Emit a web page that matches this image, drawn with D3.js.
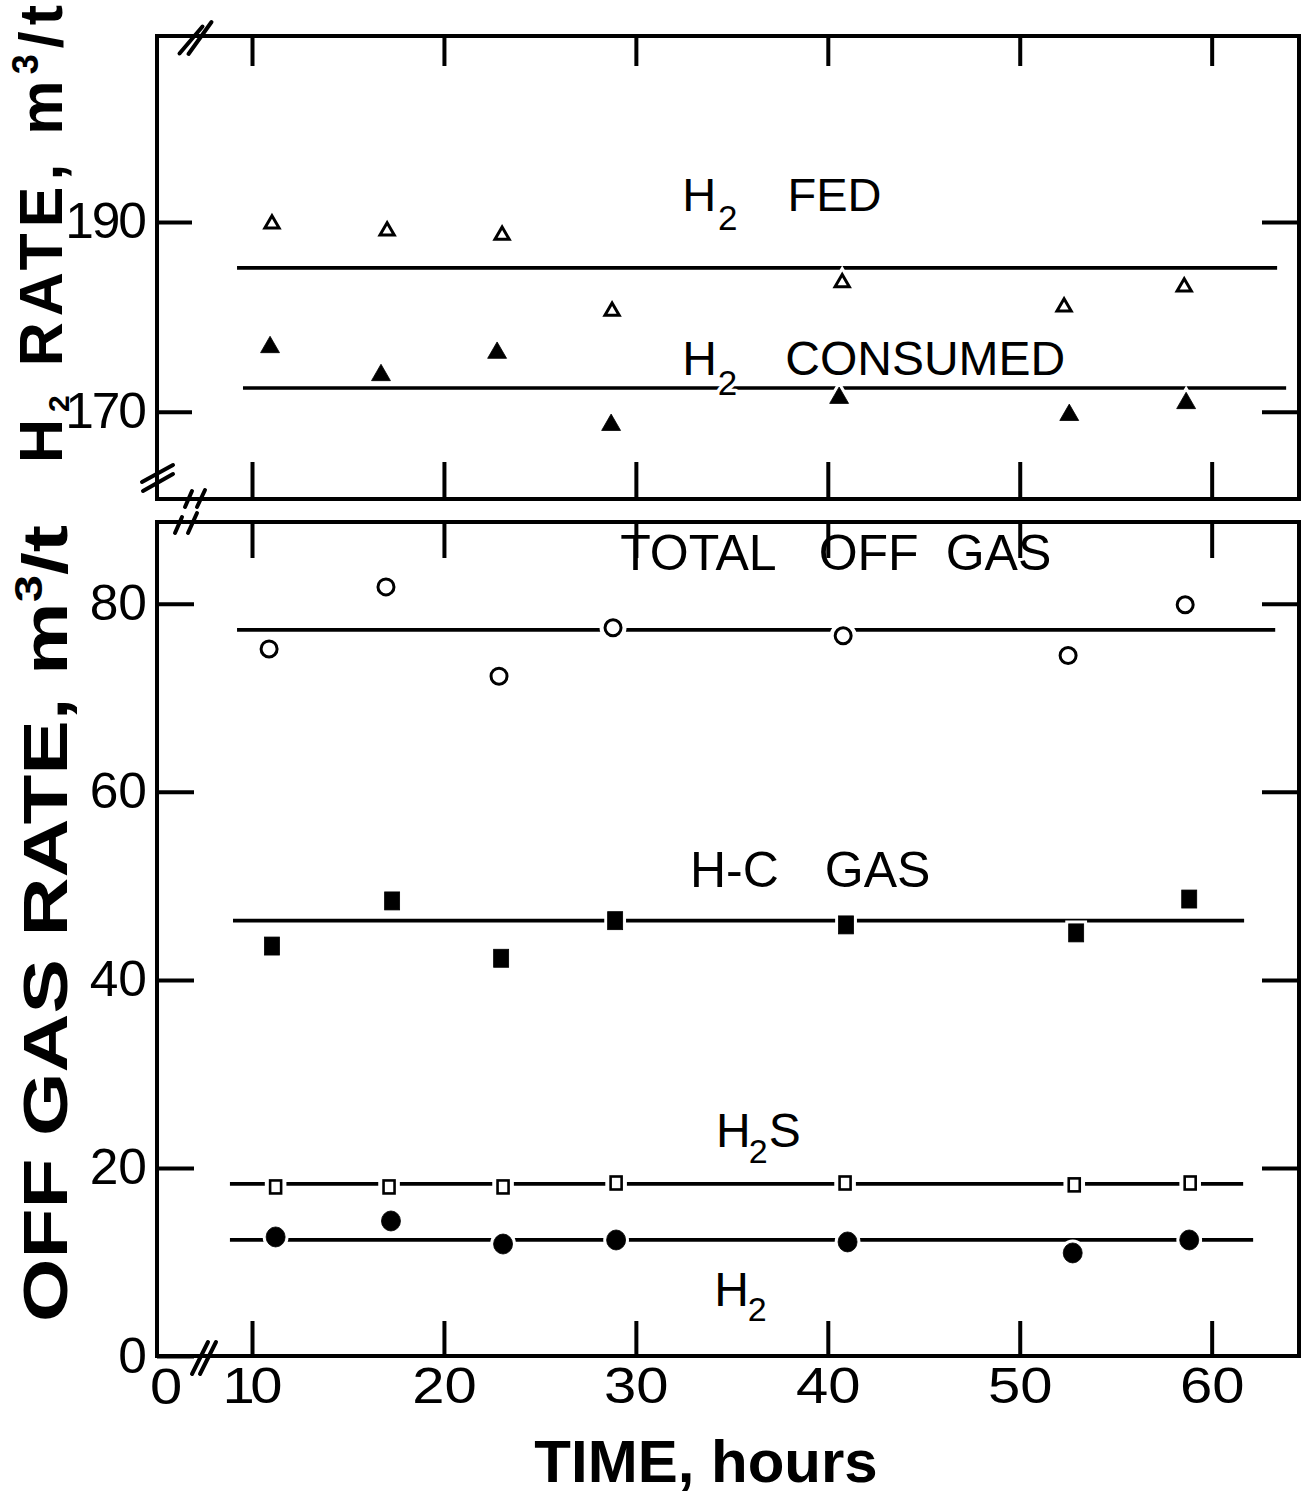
<!DOCTYPE html>
<html>
<head>
<meta charset="utf-8">
<script src="https://cdn.jsdelivr.net/npm/d3@7"></script>
<style>
  html, body { margin: 0; padding: 0; background: #fff; }
  svg { display: block; }
</style>
</head>
<body>
<svg id="chart" width="1309" height="1495"></svg>
<script>
// ---- axis ticks ----
const timeTicks = [10, 20, 30, 40, 50, 60];
const timeOriginLabel = "0";
const h2RateTicks = [170, 190];
const offGasTicks = [0, 20, 40, 60, 80];

// ---- upper panel: hydrogen rates (m3/t) ----
const h2FedTime = [11.04, 17.04, 23.03, 28.76, 40.75, 52.31, 58.57];
const h2FedRate = [189.8, 189.05, 188.6, 180.6, 183.6, 181.05, 183.15];
const h2ConsumedTime = [10.94, 16.72, 22.77, 28.71, 40.59, 52.58, 58.67];
const h2ConsumedRate = [176.8, 173.85, 176.2, 168.6, 171.45, 169.65, 170.9];

// ---- lower panel: off gas rates (m3/t) ----
const totalOffGasTime = [10.89, 16.98, 22.87, 28.81, 40.8, 52.52, 58.62];
const totalOffGasRate = [75.2, 81.8, 72.3, 77.45, 76.6, 74.5, 79.9];
const hcGasTime = [11.04, 17.3, 22.98, 28.92, 40.95, 52.94, 58.83];
const hcGasRate = [43.6, 48.4, 42.3, 46.3, 45.85, 45.0, 48.6];
const h2sTime = [11.23, 17.14, 23.08, 28.97, 40.9, 52.84, 58.88];
const h2sRate = [17.98, 17.98, 17.98, 18.4, 18.4, 18.2, 18.4];
const h2OffTime = [11.23, 17.24, 23.08, 28.97, 41.03, 52.76, 58.83];
const h2OffRate = [12.66, 14.36, 11.91, 12.34, 12.13, 10.96, 12.34];

// ---- average lines: level and time span ----
const h2FedMean = 185.15, h2FedSpan = [9.22, 63.41];
const h2ConsumedMean = 172.5, h2ConsumedSpan = [9.53, 63.88];
const totalOffGasMean = 77.23, totalOffGasSpan = [9.22, 63.31];
const hcGasMean = 46.3, hcGasSpan = [9.01, 61.69];
const h2sMean = 18.3, h2sSpan = [8.85, 61.64];
const h2OffMean = 12.34, h2OffSpan = [8.85, 62.16];

// ---- layout ----
const svg = d3.select("#chart");
const FRAME_L = 157, FRAME_R = 1299;
const upper = { top: 36, bottom: 499 };
const lower = { top: 522, bottom: 1356 };
const SANS = "'Liberation Sans', Arial, Helvetica, sans-serif";
const LABEL_SIZE = 50;
const X_LABEL_STRETCH = 1.16;
const Y_LABEL_STRETCH = 1.03;

svg.append("rect").attr("width", 1309).attr("height", 1495).attr("fill", "#fff");

const x = d3.scaleLinear().domain([5.05, 64.55]).range([FRAME_L, FRAME_R]);
const yUpper = d3.scaleLinear().domain([160.8, 209.6]).range([upper.bottom, upper.top]);
const yLower = d3.scaleLinear().domain([0, 88.7]).range([lower.bottom, lower.top]);

// ---- average lines ----
function meanLine(level, span, yS) {
  svg.append("path")
    .datum(span.map(t => [t, level]))
    .attr("d", d3.line().x(d => x(d[0])).y(d => yS(d[1])))
    .attr("fill", "none")
    .attr("stroke", "#000")
    .attr("stroke-width", 3.7);
}
meanLine(h2FedMean, h2FedSpan, yUpper);
meanLine(h2ConsumedMean, h2ConsumedSpan, yUpper);
meanLine(totalOffGasMean, totalOffGasSpan, yLower);
meanLine(hcGasMean, hcGasSpan, yLower);
meanLine(h2sMean, h2sSpan, yLower);
meanLine(h2OffMean, h2OffSpan, yLower);

// ---- curve labels (white halo breaks the lines they cross) ----
function annotate(t, v, yS, size, parts) {
  const txt = svg.append("text")
    .attr("x", x(t)).attr("y", yS(v))
    .attr("font-family", SANS)
    .attr("font-size", size)
    .attr("fill", "#000")
    .attr("stroke", "#fff").attr("stroke-width", 7)
    .attr("stroke-linejoin", "round")
    .attr("paint-order", "stroke");
  parts.forEach(p => {
    txt.append("tspan").text(p.text)
      .attr("dx", p.dx || 0).attr("dy", p.dy || 0)
      .attr("font-size", p.size || null);
  });
}
annotate(32.41, 191.15, yUpper, 47, [
  { text: "H" }, { text: "2", size: 35, dx: 2, dy: 19 }, { text: "FED", dx: 50, dy: -19 }
]);
annotate(32.41, 173.87, yUpper, 48, [
  { text: "H" }, { text: "2", size: 35, dx: 1, dy: 20 }, { text: "CONSUMED", dx: 48, dy: -20 }
]);
annotate(29.18, 83.62, yLower, 50, [
  { text: "TOTAL" }, { text: "OFF", dx: 42 }, { text: "GAS", dx: 27 }
]);
annotate(32.82, 49.9, yLower, 50, [
  { text: "H-C" }, { text: "GAS", dx: 46 }
]);
annotate(34.18, 22.23, yLower, 48, [
  { text: "H" }, { text: "2", size: 34, dx: -2, dy: 16 }, { text: "S", dx: 1, dy: -16 }
]);
annotate(34.08, 5.32, yLower, 48, [
  { text: "H" }, { text: "2", size: 34, dx: -1, dy: 15 }
]);

// ---- markers ----
const markerStyles = {
  openTriangle:   { draw: s => s.append("path").attr("d", d3.symbol(d3.symbolTriangle, 88)()), fill: "#fff", sw: 3 },
  filledTriangle: { draw: s => s.append("path").attr("d", d3.symbol(d3.symbolTriangle, 155)()), fill: "#000", sw: 0.8 },
  openCircle:     { draw: s => s.append("circle").attr("r", 8), fill: "#fff", sw: 3 },
  filledSquare:   { draw: s => s.append("rect").attr("x", -7.5).attr("y", -9).attr("width", 15).attr("height", 18), fill: "#000", sw: 0.8 },
  openSquare:     { draw: s => s.append("rect").attr("x", -5.5).attr("y", -6.5).attr("width", 11).attr("height", 13), fill: "#fff", sw: 2.6 },
  filledCircle:   { draw: s => s.append("ellipse").attr("rx", 9.5).attr("ry", 10), fill: "#000", sw: 0.8 }
};
function plotMarkers(times, vals, yS, style, gap) {
  const pts = svg.append("g").selectAll("g")
    .data(d3.zip(times, vals))
    .join("g")
    .attr("transform", d => `translate(${x(d[0])},${yS(d[1])})`);
  style.draw(pts).attr("fill", "#fff").attr("stroke", "#fff").attr("stroke-width", style.sw + 2 * gap);
  style.draw(pts).attr("fill", style.fill).attr("stroke", "#000").attr("stroke-width", style.sw)
    .attr("stroke-linejoin", "miter");
}
plotMarkers(h2FedTime, h2FedRate, yUpper, markerStyles.openTriangle, 3);
plotMarkers(h2ConsumedTime, h2ConsumedRate, yUpper, markerStyles.filledTriangle, 3);
plotMarkers(totalOffGasTime, totalOffGasRate, yLower, markerStyles.openCircle, 4);
plotMarkers(hcGasTime, hcGasRate, yLower, markerStyles.filledSquare, 3);
plotMarkers(h2sTime, h2sRate, yLower, markerStyles.openSquare, 4);
plotMarkers(h2OffTime, h2OffRate, yLower, markerStyles.filledCircle, 3);

// ---- axes ----
// The lettering uses a narrow figure one, so labels holding a "1" are set a little tighter.
function styleLabels(g, axisSide, pad, stretch) {
  g.selectAll(".tick text").each(function () {
    const t = d3.select(this);
    const s = t.text();
    t.attr("font-family", SANS).attr("font-size", LABEL_SIZE).attr("fill", "#000")
      .attr("transform", `scale(${stretch},1)`);
    const ones = (s.slice(0, -1).match(/1/g) || []).length;
    if (ones) {
      t.attr("textLength", s.length * 0.556 * LABEL_SIZE - 4 * ones).attr("lengthAdjust", "spacing");
    }
    if (axisSide === "left") t.attr("x", -pad / stretch);
  });
}
function axis(gen, tx, ty, side, pad, stretch) {
  const g = svg.append("g").attr("transform", `translate(${tx},${ty})`).call(gen);
  g.select(".domain").remove();
  g.selectAll(".tick line").attr("stroke", "#000").attr("stroke-width", 4);
  g.attr("font-family", null).attr("font-size", null);
  if (side) styleLabels(g, side, pad, stretch);
  return g;
}
// upper panel
axis(d3.axisTop(x).tickValues(timeTicks).tickSize(-30).tickFormat(""), 0, upper.top);
axis(d3.axisBottom(x).tickValues(timeTicks).tickSize(-37).tickFormat(""), 0, upper.bottom);
axis(d3.axisLeft(yUpper).tickValues(h2RateTicks).tickSize(-35).tickPadding(10).tickFormat(d3.format("d")), FRAME_L, 0, "left", 10, Y_LABEL_STRETCH);
axis(d3.axisRight(yUpper).tickValues(h2RateTicks).tickSize(-37).tickFormat(""), FRAME_R, 0);
// lower panel
axis(d3.axisTop(x).tickValues(timeTicks).tickSize(-36).tickFormat(""), 0, lower.top);
axis(d3.axisBottom(x).tickValues(timeTicks).tickSize(-35).tickPadding(12).tickFormat(d3.format("d")), 0, lower.bottom, "bottom", 12, X_LABEL_STRETCH);
axis(d3.axisLeft(yLower).tickValues(offGasTicks).tickSize(-37).tickPadding(10).tickFormat(d3.format("d")), FRAME_L, 0, "left", 10, Y_LABEL_STRETCH);
axis(d3.axisRight(yLower).tickValues(offGasTicks.slice(1)).tickSize(-37).tickFormat(""), FRAME_R, 0);

// time origin label at the broken axis start
svg.append("text")
  .attr("transform", `translate(${FRAME_L + 9},${lower.bottom + 12}) scale(${X_LABEL_STRETCH},1)`)
  .attr("dy", "0.71em")
  .attr("text-anchor", "middle")
  .attr("font-family", SANS).attr("font-size", LABEL_SIZE)
  .text(timeOriginLabel);

// ---- panel frames ----
[upper, lower].forEach(p => {
  svg.append("rect")
    .attr("x", FRAME_L).attr("y", p.top)
    .attr("width", FRAME_R - FRAME_L).attr("height", p.bottom - p.top)
    .attr("fill", "none").attr("stroke", "#000").attr("stroke-width", 4);
});

// ---- axis break marks ----
function breakMark(cx, cy, hx, hy) {
  svg.append("line")
    .attr("x1", cx - hx).attr("y1", cy - hy).attr("x2", cx + hx).attr("y2", cy + hy)
    .attr("stroke", "#000").attr("stroke-width", 4).attr("stroke-linecap", "round");
}
// top edge of upper panel
breakMark(FRAME_L + 34, upper.top + 4, 11.5, -13.5);
breakMark(FRAME_L + 43, upper.top + 2, 11.5, -16);
// left edge of upper panel
breakMark(FRAME_L + 0.5, upper.bottom - 25.5, 15.5, -8.5);
breakMark(FRAME_L + 1, upper.bottom - 16.5, 15, -8.5);
// bottom edge of upper panel
breakMark(FRAME_L + 31.5, upper.bottom, 3.5, -8);
breakMark(FRAME_L + 44, upper.bottom - 0.5, 4, -8.5);
// top edge of lower panel
breakMark(FRAME_L + 21.5, lower.top + 3, 3.5, -8);
breakMark(FRAME_L + 35.5, lower.top + 1, 4.5, -10);
// bottom edge of lower panel
breakMark(FRAME_L + 43, lower.bottom + 2, 8, -16);
breakMark(FRAME_L + 51, lower.bottom + 2, 8, -16);

// ---- axis titles ----
function rotatedTitle(px, py, size, parts, length, adjust) {
  const t = svg.append("text")
    .attr("transform", `translate(${px},${py}) rotate(-90)`)
    .attr("font-family", SANS).attr("font-weight", "bold")
    .attr("font-size", size).attr("fill", "#000")
    .attr("textLength", length).attr("lengthAdjust", adjust);
  parts.forEach(p => {
    t.append("tspan").text(p.text)
      .attr("dx", p.dx || 0).attr("dy", p.dy || 0)
      .attr("font-size", p.size || null);
  });
}
rotatedTitle(62, 463, 61, [
  { text: "H" }, { text: "2", size: 30, dx: 1, dy: 7 },
  { text: " RATE, m", dy: -7 }, { text: "3", size: 36, dy: -24 }, { text: "/t", dy: 24 }
], 458, "spacing");
rotatedTitle(67, 1322, 63, [
  { text: "OFF GAS RATE, m" }, { text: "3", size: 38, dy: -25 }, { text: "/t", dy: 25 }
], 797, "spacingAndGlyphs");

svg.append("text")
  .attr("x", 706).attr("y", 1482)
  .attr("text-anchor", "middle")
  .attr("font-family", SANS).attr("font-weight", "bold").attr("font-size", 60)
  .text("TIME, hours");
</script>
</body>
</html>
